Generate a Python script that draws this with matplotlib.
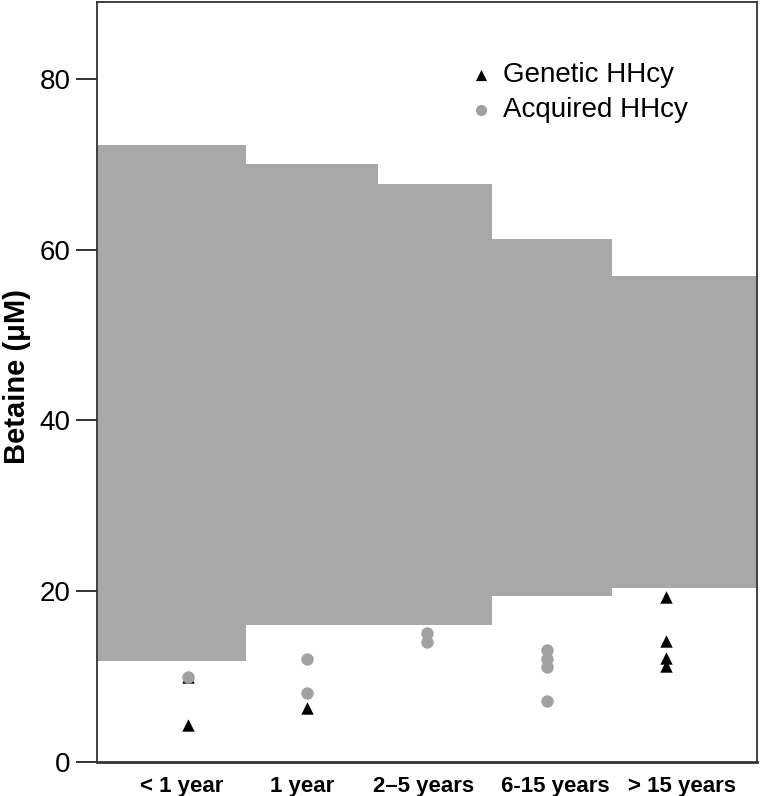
import matplotlib
matplotlib.use('Agg')
import matplotlib.pyplot as plt
import numpy as np

categories = ['< 1 year', '1 year', '2\u20135 years', '6-15 years', '> 15 years']

# reference range per age group (grey bands)
ref_low = [11.8, 16.1, 16.1, 19.4, 20.4]
ref_high = [72.2, 70.0, 67.7, 61.2, 56.9]
# band edges on the category axis
band_edges = [-0.76, 0.49, 1.59, 2.54, 3.55, 4.76]

# individual patients
genetic_cat = [0, 0, 1, 4, 4, 4, 4]
genetic_val = [10.0, 4.3, 6.3, 19.3, 14.2, 12.2, 11.2]
acquired_cat = [0, 1, 1, 2, 2, 3, 3, 3, 3]
acquired_val = [10.0, 12.1, 8.1, 15.1, 14.1, 13.1, 12.1, 11.1, 7.1]

plt.rcParams['font.family'] = ['Liberation Sans', 'DejaVu Sans']

fig = plt.figure(figsize=(7.6, 7.96), dpi=100)
ax = fig.add_axes([0.1276, 0.0427, 0.996 - 0.1276, 0.9975 - 0.0427])

for i in range(len(categories)):
    ax.fill_between([band_edges[i], band_edges[i + 1]], ref_low[i], ref_high[i],
                    color='#a8a8a8', linewidth=0, zorder=1)

ax.scatter(genetic_cat, genetic_val, marker='^', s=80, color='black',
           linewidths=0, zorder=3, label='Genetic HHcy')
ax.scatter(acquired_cat, acquired_val, marker='o', s=80, color='#a0a0a0',
           linewidths=0, zorder=4, label='Acquired HHcy')

ax.set_xlim(band_edges[0], band_edges[-1])
ax.set_ylim(0, 89)
ax.set_yticks([0, 20, 40, 60, 80])
# labels sit a little off the point columns in the original
label_shift = [-0.05, -0.04, -0.03, 0.07, 0.13]
ax.set_xticks(np.arange(len(categories)) + np.array(label_shift))
ax.set_xticklabels(categories, fontsize=16, fontweight='bold')
ax.tick_params(axis='x', length=0, pad=10)
ax.tick_params(axis='y', length=15, width=1.3, labelsize=20, pad=4, color='#222222')
ax.set_ylabel('Betaine (\u03bcM)', fontsize=21, fontweight='bold')
ax.yaxis.set_label_coords(-0.1, 0.507)

for s in ax.spines.values():
    s.set_linewidth(1.3)
    s.set_color('#333333')
ax.spines['bottom'].set_linewidth(2)

ax.legend(loc='upper left', bbox_to_anchor=(0.54, 0.939), frameon=False,
          fontsize=20, handlelength=1.0, handletextpad=0.3, labelspacing=0.32,
          borderpad=0, markerscale=0.9)

fig.savefig('out.png', dpi=100)
